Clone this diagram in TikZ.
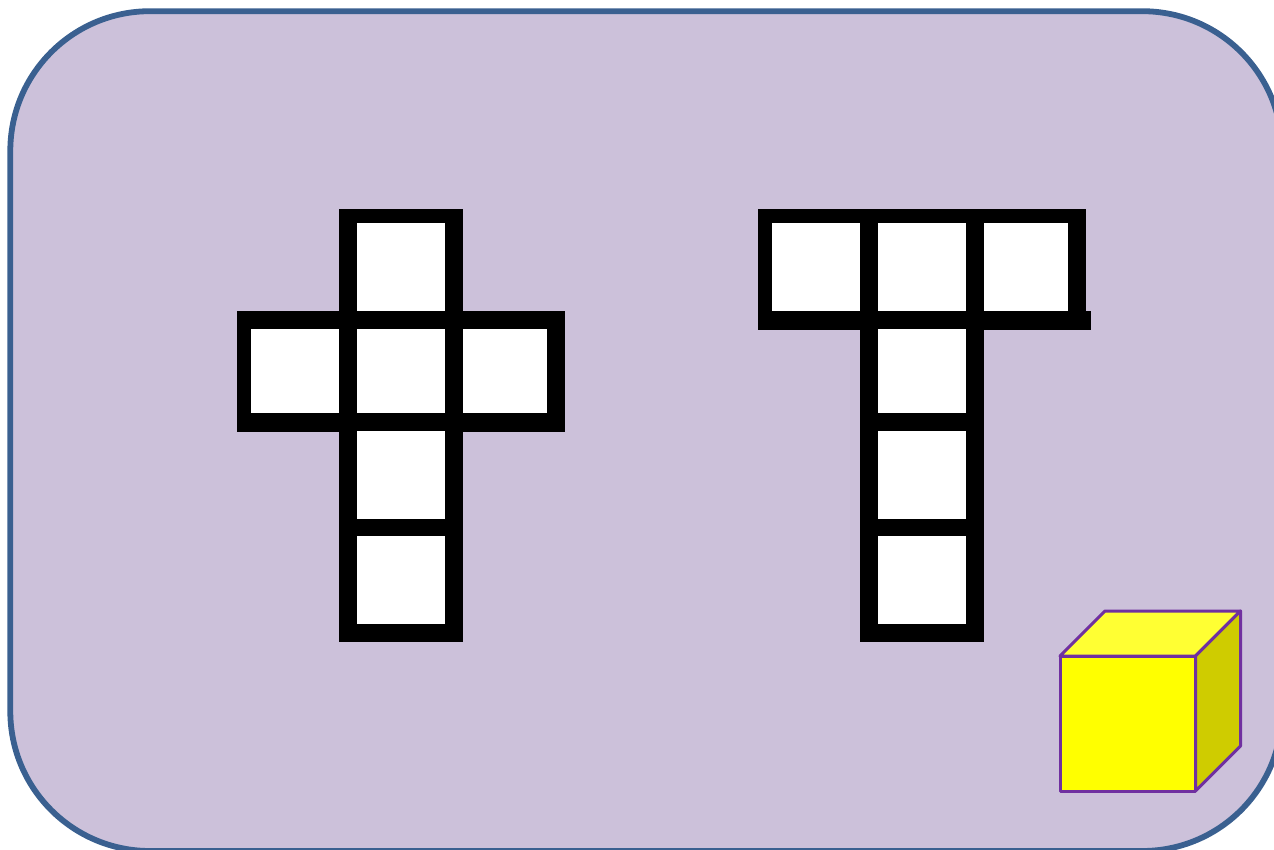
\documentclass[tikz,border=0pt]{standalone}
\usepackage{xcolor}
\usepackage{tikz}
\usetikzlibrary{positioning}

\definecolor{boardfill}{HTML}{CCC1DA}
\definecolor{boardline}{HTML}{3A6090}
\definecolor{cubeline}{HTML}{7030A0}
\definecolor{cubefront}{HTML}{FFFF00}
\definecolor{cubetop}{HTML}{FFFF33}
\definecolor{cubeside}{HTML}{CFCC00}

\tikzset{
    cell/.style={fill=white, inner sep=0pt, outer sep=0pt, minimum width=88pt, minimum height=88pt},
    wide/.style={cell, minimum height=84pt},
    narrow/.style={wide, minimum width=84pt},
    face/.style={draw=cubeline, line width=3pt, line join=round},
}

\begin{document}
\begin{tikzpicture}[x=1pt, y=-1pt, node distance=18pt]
        \useasboundingbox (0,0) rectangle (1274,850);
        \draw[fill=boardfill, draw=boardline, line width=5.8pt, rounded corners=139.7pt] (10.3,11.2) rectangle (1282,851);

        % cross
        \fill (339,209) rectangle (463,642);
        \fill (237,311) rectangle (565,432);
        \node[cell] (top) at (401,267) {};
        \node[wide, below= of top] (mid) {};
        \node[wide, left= of mid] (west) {};
        \node[narrow, right= of mid] (east) {};
        \node[cell, below= of mid] (low) {};
        \node[cell, below= 17pt of low] (foot) {};

        % tee
        \fill (758,209) rectangle (1086,311);
        \fill (758,311) rectangle (1091,330);
        \fill (860,330) rectangle (984,642);
        \node[cell] (bar) at (922,267) {};
        \node[cell, left= of bar] (barl) {};
        \node[cell, minimum width=84pt, right= of bar] (barr) {};
        \node[wide, below= of bar] (stem) {};
        \node[cell, below= of stem] (stemb) {};
        \node[cell, below= 17pt of stemb] (stemc) {};

        % cube
        \coordinate (fa) at (1060,656);
        \coordinate (fb) at (1195.5,656);
        \coordinate (fc) at (1195.5,791);
        \coordinate (fd) at (1060,791);
        \coordinate (ba) at (1105,611);
        \coordinate (bb) at (1240.5,611);
        \coordinate (bc) at (1240.5,746);
        \draw[face, fill=cubetop] (fa) -- (ba) -- (bb) -- (fb) -- cycle;
        \draw[face, fill=cubeside] (fb) -- (bb) -- (bc) -- (fc) -- cycle;
        \draw[face, fill=cubefront] (fa) -- (fb) -- (fc) -- (fd) -- cycle;
\end{tikzpicture}
\end{document}
